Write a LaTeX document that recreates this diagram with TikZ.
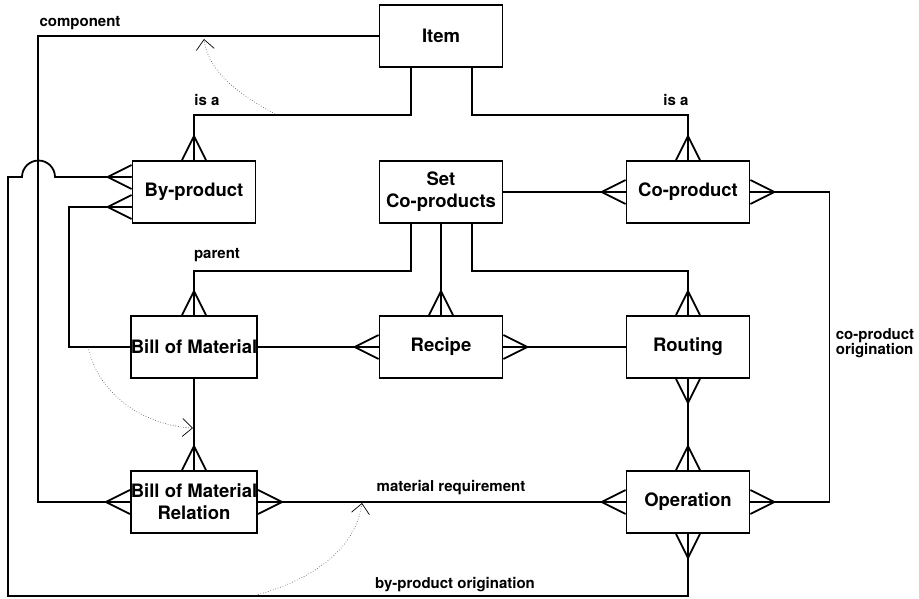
\documentclass[tikz,border=0pt]{standalone}
\usepackage{fontspec}
\setmainfont{TeX Gyre Heros}
\usetikzlibrary{arrows.meta, positioning, calc}

\begin{document}
\begin{tikzpicture}[x=1pt, y=-1pt, line width=1.8pt,
    entity/.style={draw, rectangle, minimum width=123pt, minimum height=62pt,
                   inner sep=0pt, align=center, font=\fontsize{18.5}{22}\selectfont\bfseries},
    lbl/.style={inner sep=0pt, font=\fontsize{15}{13}\selectfont\bfseries},
    relarc/.style={line width=0.6pt, dotted, black!75,
                   -{Straight Barb[length=10pt, width=18pt, line width=0.7pt, black]}},
    crow/.pic={\draw (24,0) -- (0,-12) (24,0) -- (0,12) (24,0) -- (0,0);}]
            \useasboundingbox (0,0) rectangle (919,598);

            % entities
            \node[entity] (item) at (441,36) {Item};
            \node[entity] (byp) at (194,192) {By-product};
            \node[entity] (setco) at (441,192) {Set\\Co-products};
            \node[entity] (cop) at (688,192) {Co-product};
            \node[entity] (bom) at (194,347) {Bill of Material};
            \node[entity] (recipe) at (441,347) {Recipe};
            \node[entity] (routing) at (688,347) {Routing};
            \node[entity] (bomrel) at (194,502) {Bill of Material\\Relation};
            \node[entity] (oper) at (688,502) {Operation};

            % is a
            \draw ([xshift=-30pt]item.south) -- ++(0,47) -| (byp.north);
            \pic[rotate=90] at (byp.north) {crow};
            \draw ([xshift=31pt]item.south) -- ++(0,47) -| (cop.north);
            \pic[rotate=90] at (cop.north) {crow};
            \node[lbl] (isaleft) at (207,100) {is a};
            \node[lbl] (isaright) at (676,100) {is a};

            % component
            \coordinate (cmpcorner) at (38,36);
            \draw (item.west) -- (cmpcorner) |- (bomrel.west);
            \pic[rotate=180] at (bomrel.west) {crow};
            \node[lbl] (cmplbl) at (80,23) {component};

            % by-product origination, hopping over the component line
            \draw ([yshift=15pt]byp.west) -- (55,177)
                arc[start angle=0, end angle=180, radius=16.5pt] -- (8,177) -- (8,596) -| (oper.south);
            \pic[rotate=180] at ([yshift=15pt]byp.west) {crow};
            \pic[rotate=-90] at (oper.south) {crow};
            \node[lbl] (byplbl) at (455,585) {by-product origination};

            % by-product to bill of material
            \draw ([yshift=-15pt]byp.west) -- ++(-63,0) |- (bom.west);
            \pic[rotate=180] at ([yshift=-15pt]byp.west) {crow};

            % set co-products
            \draw ([xshift=-30pt]setco.south) -- ++(0,47) -| (bom.north);
            \pic[rotate=90] at (bom.north) {crow};
            \node[lbl] (parentlbl) at (217,255) {parent};
            \draw (setco.south) -- (recipe.north);
            \pic[rotate=90] at (recipe.north) {crow};
            \draw ([xshift=31pt]setco.south) -- ++(0,47) -| (routing.north);
            \pic[rotate=90] at (routing.north) {crow};
            \draw (setco.east) -- (cop.west);
            \pic[rotate=180] at (cop.west) {crow};

            % co-product origination
            \draw (cop.east) -- ++(79,0) |- (oper.east);
            \pic at (cop.east) {crow};
            \pic at (oper.east) {crow};
            \node[lbl, anchor=west, align=left, font=\fontsize{15}{12}\selectfont\bfseries] (coplbl) at (835,343) {co-product\\origination};

            % middle row
            \draw (bom.east) -- (recipe.west);
            \pic[rotate=180] at (recipe.west) {crow};
            \draw (recipe.east) -- (routing.west);
            \pic at (recipe.east) {crow};
            \draw (routing.south) -- (oper.north);
            \pic[rotate=-90] at (routing.south) {crow};
            \pic[rotate=90] at (oper.north) {crow};
            \draw (bom.south) -- (bomrel.north);
            \pic[rotate=90] at (bomrel.north) {crow};

            % material requirement
            \draw (bomrel.east) -- (oper.west);
            \pic at (bomrel.east) {crow};
            \pic[rotate=180] at (oper.west) {crow};
            \node[lbl] (matlbl) at (451,488) {material requirement};

            % dotted relationship arcs
            \coordinate (arcAfrom) at (275,114);
            \coordinate (arcAto) at (204,39);
            \draw[relarc] (arcAfrom) .. controls (240,95) and (208,72) .. (arcAto);
            \coordinate (arcBfrom) at (88,347);
            \coordinate (arcBto) at (193,428);
            \draw[relarc] (arcBfrom) .. controls (100,400) and (150,426) .. (arcBto);
            \coordinate (arcCfrom) at (253,596);
            \coordinate (arcCto) at (362,503);
            \draw[relarc] (arcCfrom) .. controls (320,578) and (356,545) .. (arcCto);
        \end{tikzpicture}
\end{document}
